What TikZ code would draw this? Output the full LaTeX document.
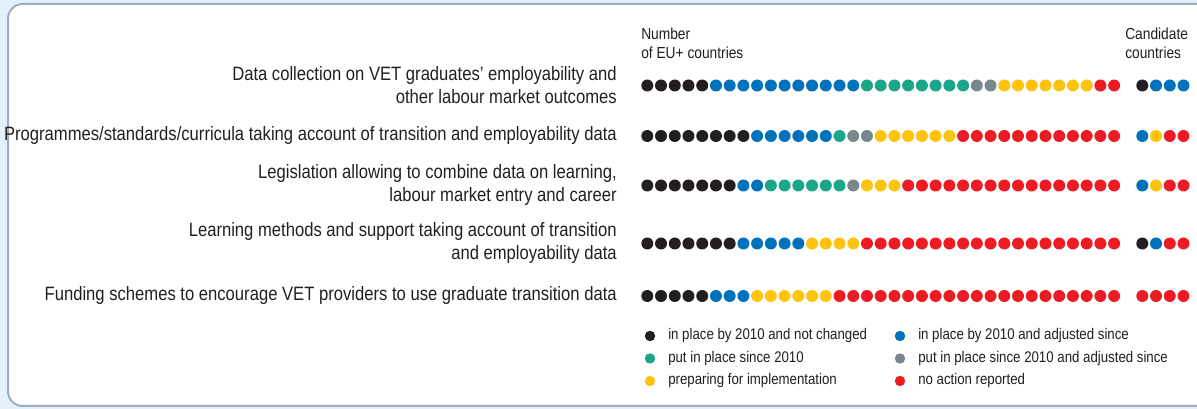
\documentclass[tikz,border=0pt]{standalone}
\usepackage{fontspec}
\setmainfont[FakeStretch=0.86]{Liberation Sans}
\definecolor{cK}{HTML}{231F20}
\definecolor{cB}{HTML}{0072BC}
\definecolor{cG}{HTML}{1BA68A}
\definecolor{cS}{HTML}{78868E}
\definecolor{cY}{HTML}{FFC20E}
\definecolor{cR}{HTML}{ED1C24}
\definecolor{bgblue}{HTML}{E6F0F8}
\definecolor{frame}{HTML}{9EAEC2}
\definecolor{txt}{HTML}{231F20}
\tikzset{
  dot/.style={circle,inner sep=0pt,minimum size=9pt,draw=none},
  ldot/.style={circle,inner sep=0pt,minimum size=7.8pt,draw=none},
  lab/.style={anchor=east,align=right,font=\fontsize{14.5}{17.25}\selectfont,text=txt,inner sep=0pt},
  hdr/.style={anchor=north west,align=left,font=\fontsize{12}{14.25}\selectfont,text=txt,inner sep=0pt},
  leg/.style={anchor=west,font=\fontsize{11.55}{12}\selectfont,text=txt,inner sep=0pt}
}
\newcommand\drun[6]{%
  \foreach \k in {1,...,#5}{%
    \pgfmathtruncatemacro\ii{#4+\k-1}%
    \pgfmathsetmacro\xx{#3+13.73*\ii}%
    \pgfmathsetmacro\yy{{85.5,136,185.5,243.5,296}[#2-1]}%
    \node[dot,fill=#6] (#1#2-\ii) at (\xx,\yy) {};
  }}
\begin{document}
\begin{tikzpicture}[x=0.75pt,y=-0.75pt]
\useasboundingbox (0,0) rectangle (1197,409);
\fill[bgblue] (0,0) rectangle (1197,409);
\begin{scope}
\clip (0,0) rectangle (1197,409);
\draw[frame,fill=white,line width=1.5pt,rounded corners=11pt] (8,4) rectangle (1220,406);
\end{scope}
% header
\node[hdr] (hEU) at (641,28) {Number\\of EU+ countries};
\node[hdr] (hC) at (1125,28) {Candidate\\countries};
% labels
\node[lab] (l1) at (617,85) {Data collection on VET graduates’ employability and\\other labour market outcomes};
\node[lab] (l2) at (617,135.5) {Programmes/standards/curricula taking account of transition and employability data};
\node[lab] (l3) at (617,185) {Legislation allowing to combine data on learning,\\labour market entry and career};
\node[lab] (l4) at (617,243.5) {Learning methods and support taking account of transition\\and employability data};
\node[lab] (l5) at (617,296) {Funding schemes to encourage VET providers to use graduate transition data};
% row 1
\drun{e}{1}{647.3}{0}{5}{cK}
\drun{e}{1}{647.3}{5}{11}{cB}
\drun{e}{1}{647.3}{16}{8}{cG}
\drun{e}{1}{647.3}{24}{2}{cS}
\drun{e}{1}{647.3}{26}{7}{cY}
\drun{e}{1}{647.3}{33}{2}{cR}
\drun{c}{1}{1142.3}{0}{1}{cK}
\drun{c}{1}{1142.3}{1}{3}{cB}
% row 2
\drun{e}{2}{647.3}{0}{8}{cK}
\drun{e}{2}{647.3}{8}{6}{cB}
\drun{e}{2}{647.3}{14}{1}{cG}
\drun{e}{2}{647.3}{15}{2}{cS}
\drun{e}{2}{647.3}{17}{6}{cY}
\drun{e}{2}{647.3}{23}{12}{cR}
\drun{c}{2}{1142.3}{0}{1}{cB}
\drun{c}{2}{1142.3}{1}{1}{cY}
\drun{c}{2}{1142.3}{2}{2}{cR}
% row 3
\drun{e}{3}{647.3}{0}{7}{cK}
\drun{e}{3}{647.3}{7}{2}{cB}
\drun{e}{3}{647.3}{9}{6}{cG}
\drun{e}{3}{647.3}{15}{1}{cS}
\drun{e}{3}{647.3}{16}{3}{cY}
\drun{e}{3}{647.3}{19}{16}{cR}
\drun{c}{3}{1142.3}{0}{1}{cB}
\drun{c}{3}{1142.3}{1}{1}{cY}
\drun{c}{3}{1142.3}{2}{2}{cR}
% row 4
\drun{e}{4}{647.3}{0}{7}{cK}
\drun{e}{4}{647.3}{7}{5}{cB}
\drun{e}{4}{647.3}{12}{4}{cY}
\drun{e}{4}{647.3}{16}{19}{cR}
\drun{c}{4}{1142.3}{0}{1}{cK}
\drun{c}{4}{1142.3}{1}{1}{cB}
\drun{c}{4}{1142.3}{2}{2}{cR}
% row 5
\drun{e}{5}{647.3}{0}{5}{cK}
\drun{e}{5}{647.3}{5}{3}{cB}
\drun{e}{5}{647.3}{8}{6}{cY}
\drun{e}{5}{647.3}{14}{21}{cR}
\drun{c}{5}{1142.3}{0}{4}{cR}
% legend
\node[ldot,fill=cK] (lg1) at (650,336) {};
\node[leg] (lt1) at (668,336) {in place by 2010 and not changed};
\node[ldot,fill=cG] (lg2) at (650,358.5) {};
\node[leg] (lt2) at (668,358.5) {put in place since 2010};
\node[ldot,fill=cY] (lg3) at (650,381) {};
\node[leg] (lt3) at (668,381) {preparing for implementation};
\node[ldot,fill=cB] (lg4) at (900,336) {};
\node[leg] (lt4) at (918,336) {in place by 2010 and adjusted since};
\node[ldot,fill=cS] (lg5) at (900,358.5) {};
\node[leg] (lt5) at (918,358.5) {put in place since 2010 and adjusted since};
\node[ldot,fill=cR] (lg6) at (900,381) {};
\node[leg] (lt6) at (918,381) {no action reported};
\end{tikzpicture}
\end{document}
